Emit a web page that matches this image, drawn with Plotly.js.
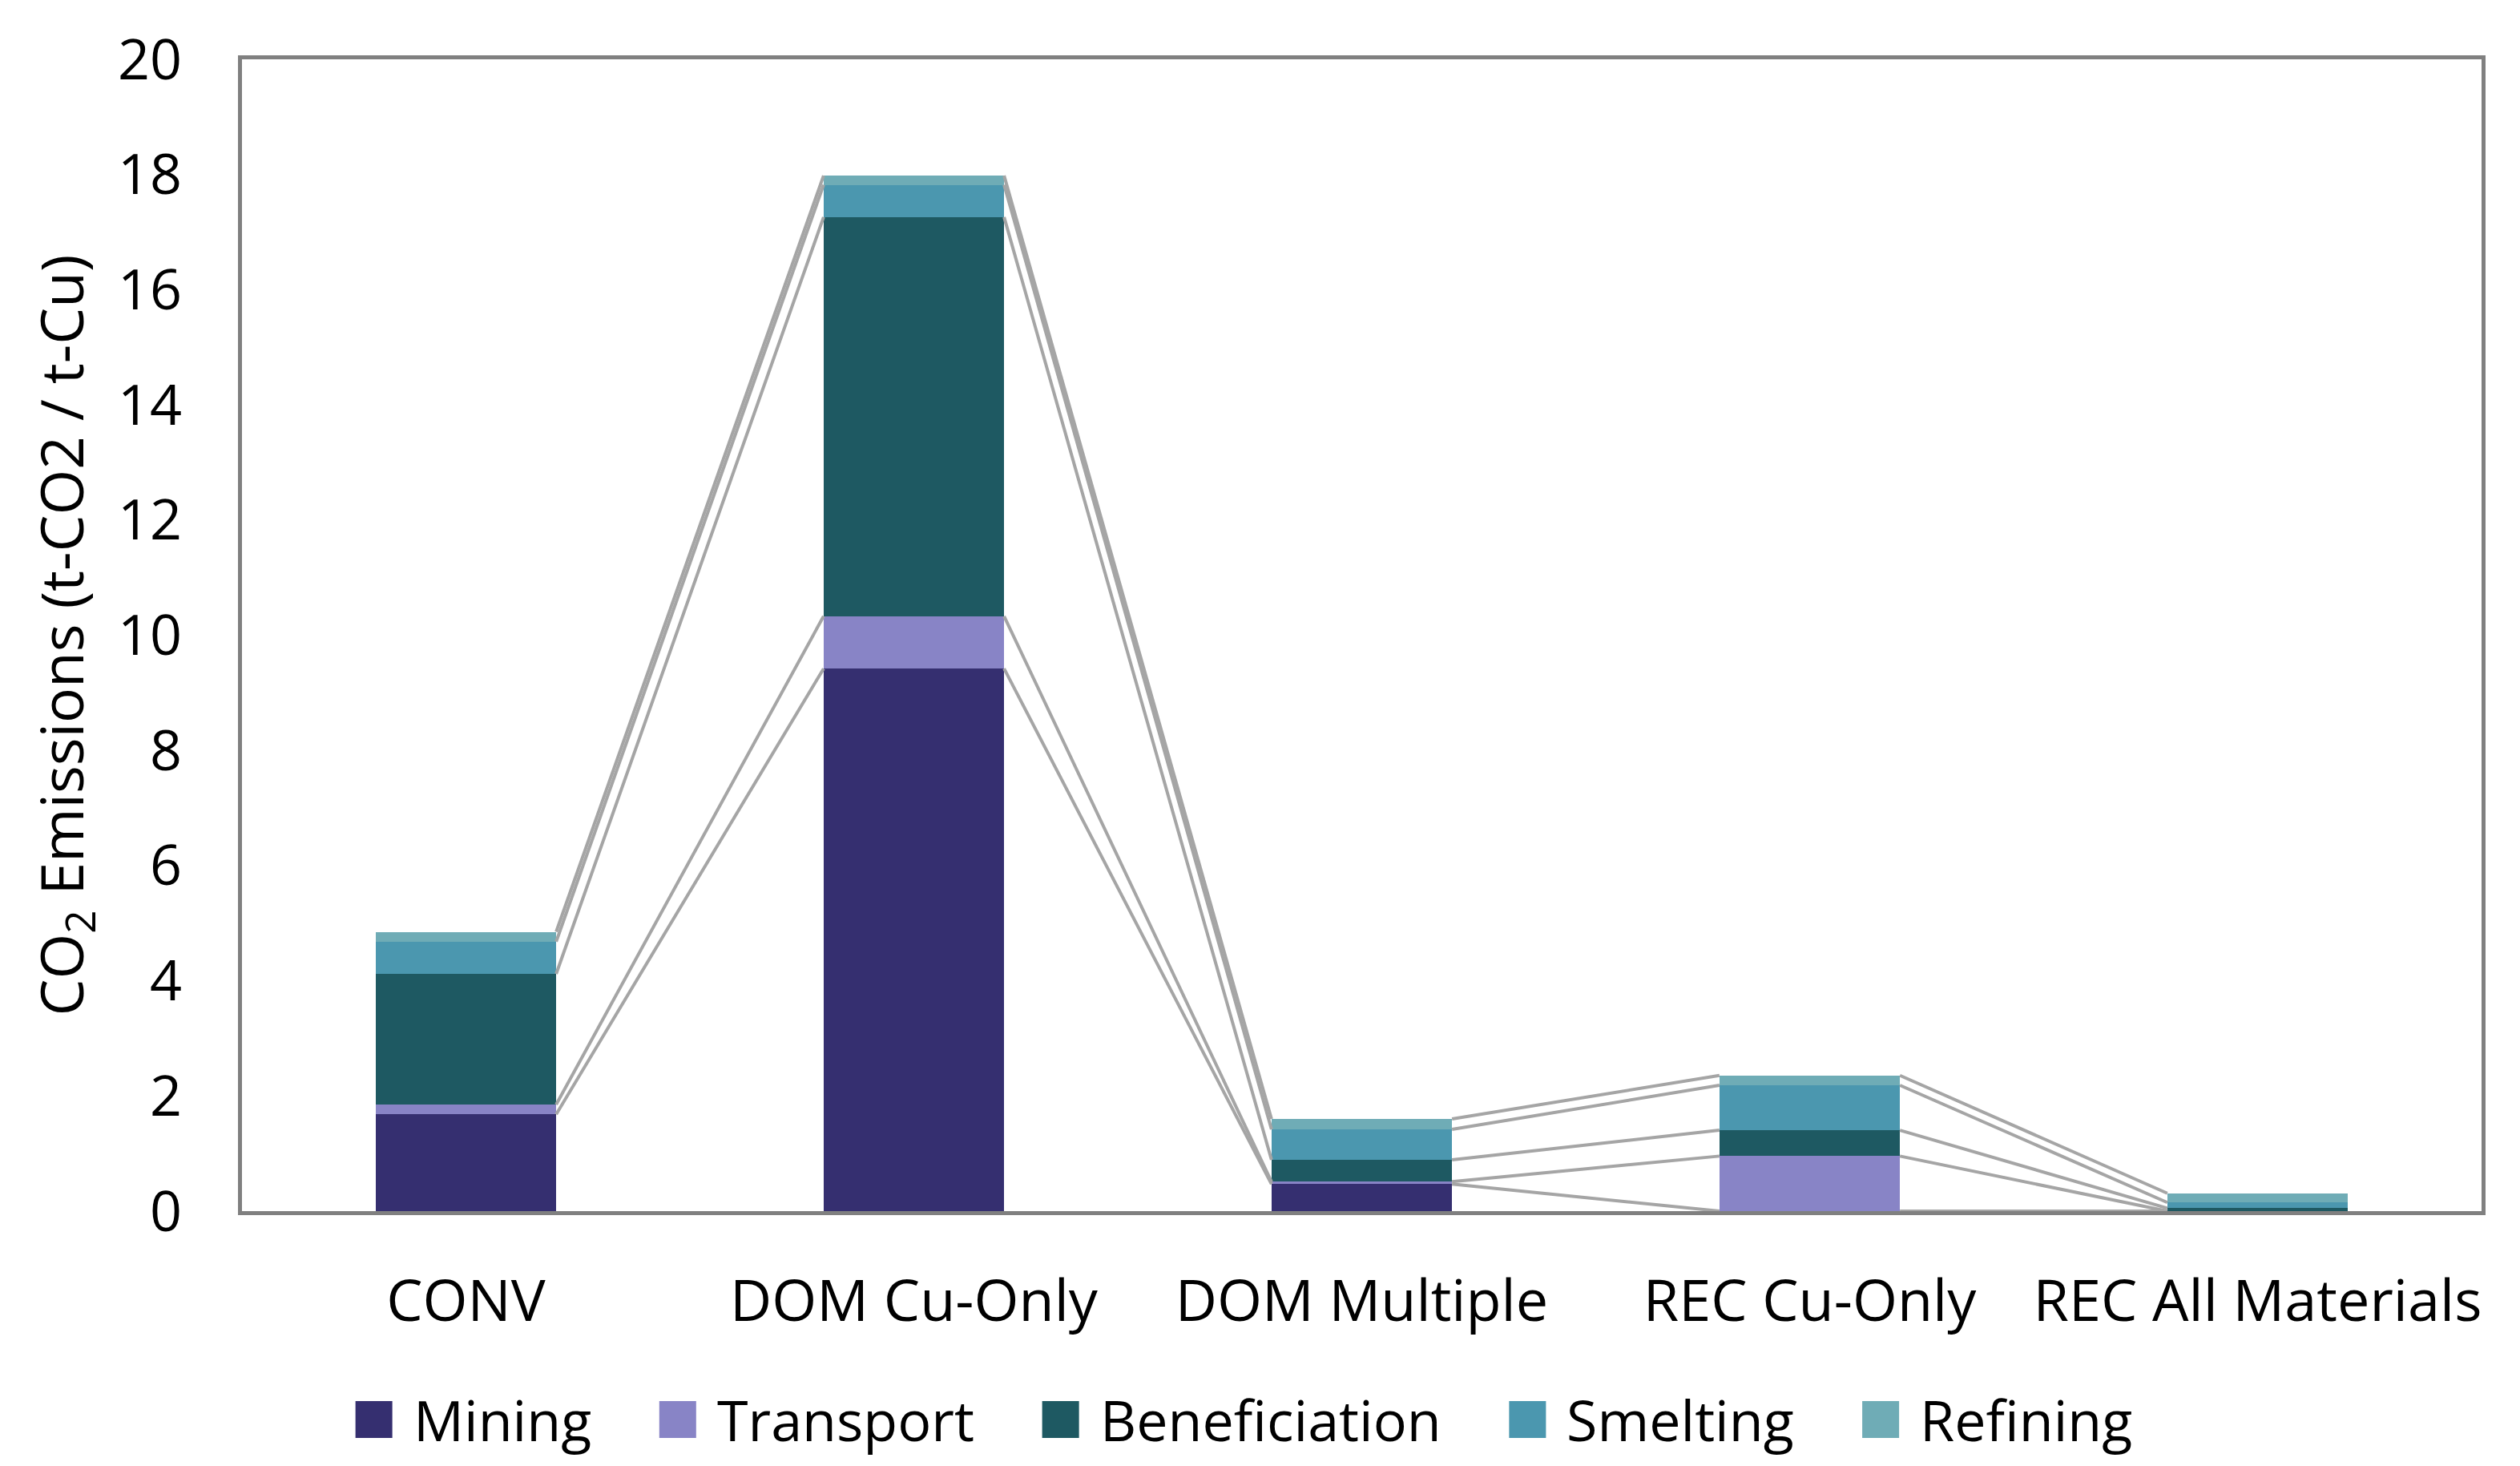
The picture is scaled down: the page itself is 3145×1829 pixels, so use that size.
<!DOCTYPE html>
<html><head><meta charset="utf-8">
<script src="https://cdn.plot.ly/plotly-3.0.1.min.js"></script>
<style>html,body{margin:0;padding:0;background:#fff;} #chart{width:3145px;height:1829px;}</style>
</head><body><div id="chart"></div>
<script>
// ---- data ----
const categories = ['CONV', 'DOM Cu-Only', 'DOM Multiple', 'REC Cu-Only', 'REC All Materials'];
const seriesNames = ['Mining', 'Transport', 'Beneficiation', 'Smelting', 'Refining'];
const mining        = [1.68, 9.42, 0.47, 0.00, 0.00];
const transport     = [0.17, 0.91, 0.04, 0.955, 0.00];
const beneficiation = [2.27, 6.93, 0.38, 0.45, 0.05];
const smelting      = [0.56, 0.56, 0.53, 0.78, 0.10];
const refining      = [0.17, 0.16, 0.18, 0.17, 0.16];
const yTickVals = [0, 2, 4, 6, 8, 10, 12, 14, 16, 18, 20];
const yTitle = 'CO<sub>2</sub> Emissions (t-CO2 / t-Cu)';

// ---- style ----
const colors = ['#352F70', '#8884C6', '#1E5962', '#4B97AF', '#6FACB6'];
const FONT = 'Open Sans, Noto Sans, sans-serif';
const FS = 70;
const W = 3145, H = 1829;
const M = {l: 302, r: 48, t: 74, b: 318};
const barW = 0.403;

const seriesData = [mining, transport, beneficiation, smelting, refining];
const xIdx = categories.map((c, i) => i);

const traces = [];
seriesData.forEach((vals, s) => {
  traces.push({
    type: 'bar', x: xIdx, y: vals, name: seriesNames[s],
    width: barW, marker: {color: colors[s], line: {width: 0}},
    showlegend: false, hoverinfo: 'skip'
  });
});

// series lines (Excel style) connecting cumulative tops of each series
const cum = seriesData.map((v, s) => xIdx.map(i => {
  let t = 0; for (let k = 0; k <= s; k++) t += seriesData[k][i]; return t;
}));
cum.forEach((c, s) => {
  const lx = [], ly = [];
  for (let i = 0; i < xIdx.length - 1; i++) {
    lx.push(xIdx[i] + barW / 2, xIdx[i + 1] - barW / 2, null);
    ly.push(c[i], c[i + 1], null);
  }
  traces.push({type: 'scatter', mode: 'lines', x: lx, y: ly,
    line: {color: '#A5A5A5', width: 4}, showlegend: false, hoverinfo: 'skip'});
});

// manual legend (large square markers like the original)
const pw = W - M.l - M.r, ph = H - M.t - M.b;
const px2x = px => (px - M.l) / pw;
const py2y = py => (H - M.b - py) / ph;
const cv = document.createElement('canvas').getContext('2d');
cv.font = FS + 'px "Open Sans"';
const mk = 46, gapMT = 27, gapItem = 84;
const widths = seriesNames.map(n => cv.measureText(n).width);
let total = 0;
widths.forEach((w, i) => { total += mk + gapMT + w + (i < widths.length - 1 ? gapItem : 0); });
let cx = 1553 - total / 2;
const legY = 1771;
const shapes = [], annotations = [];
seriesNames.forEach((n, i) => {
  shapes.push({type: 'rect', xref: 'paper', yref: 'paper',
    x0: px2x(cx), x1: px2x(cx + mk), y0: py2y(legY + mk / 2), y1: py2y(legY - mk / 2),
    fillcolor: colors[i], line: {width: 0}});
  annotations.push({xref: 'paper', yref: 'paper', x: px2x(cx + mk + gapMT - 2), y: py2y(legY),
    xanchor: 'left', yanchor: 'middle', showarrow: false, text: n,
    font: {family: FONT, size: FS, color: '#000'}, borderpad: 0});
  cx += mk + gapMT + widths[i] + gapItem;
});

const layout = {
  width: W, height: H,
  margin: M,
  paper_bgcolor: '#fff', plot_bgcolor: '#fff',
  barmode: 'stack', bargap: 0,
  showlegend: false,
  font: {family: FONT, size: FS, color: '#000'},
  xaxis: {
    range: [-0.5, 4.5], tickvals: xIdx, ticktext: categories,
    showgrid: false, zeroline: false, ticks: '',
    showline: true, linecolor: '#808080', linewidth: 5, mirror: true,
    tickfont: {family: FONT, size: 72, color: '#000'},
    ticklabelstandoff: 46
  },
  yaxis: {
    range: [0, 20], tickvals: yTickVals, ticktext: yTickVals.map(String),
    showgrid: false, zeroline: false, ticks: '',
    showline: true, linecolor: '#808080', linewidth: 5, mirror: true,
    tickfont: {family: FONT, size: FS, color: '#000'},
    ticklabelstandoff: 56,
    title: {text: yTitle, font: {family: FONT, size: 73, color: '#000'}, standoff: 20}
  },
  shapes: shapes,
  annotations: annotations
};

Plotly.newPlot('chart', traces, layout, {displayModeBar: false, staticPlot: true});
</script>
</body></html>
